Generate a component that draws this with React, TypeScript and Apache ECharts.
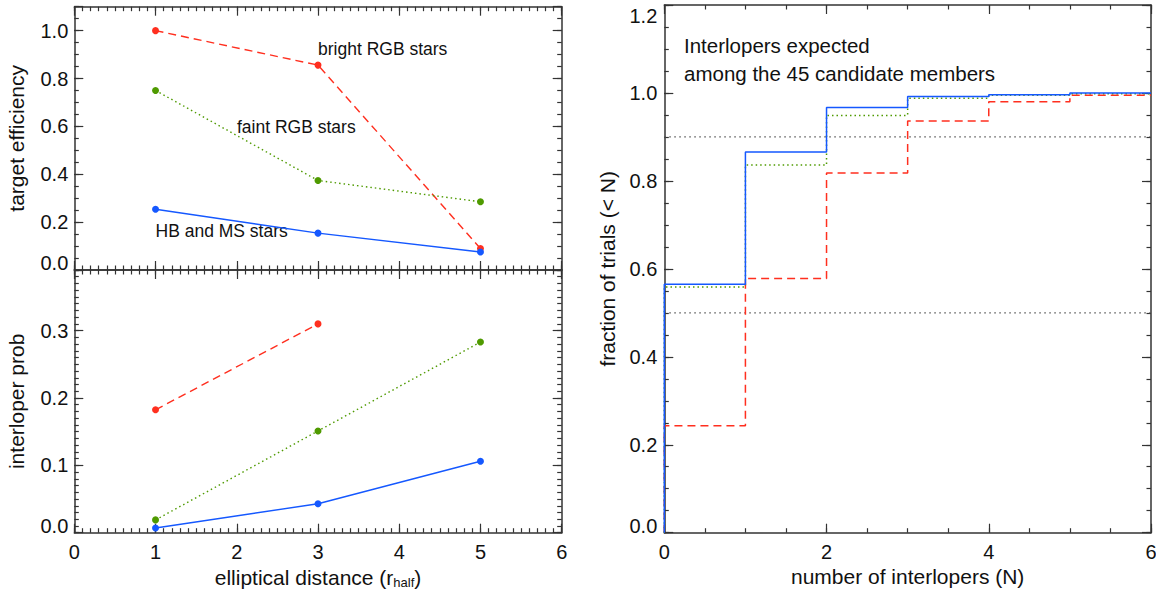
import React, { useEffect, useRef } from "react";
import * as echarts from "echarts";

// ---------- data ----------
const xDist = [1, 3, 5];
const xDistBright = [1, 3];
const effBright = [1.0, 0.856, 0.09];
const effFaint = [0.75, 0.374, 0.285];
const effHBMS = [0.254, 0.154, 0.075];
const probBright = [0.1825, 0.31];
const probFaint = [0.019, 0.151, 0.283];
const probHBMS = [0.007, 0.043, 0.106];

const nInterlopers = [0, 1, 2, 3, 4, 5, 6];
const cumHBMS = [0.565, 0.866, 0.967, 0.992, 0.996, 1.0];
const cumFaint = [0.559, 0.836, 0.949, 0.988, 0.995, 0.998];
const cumBright = [0.243, 0.578, 0.818, 0.936, 0.98, 0.995];
const refLevels = [0.9, 0.5];

const FONT = "'Liberation Sans', Arial, Helvetica, sans-serif";
const RED = "#ff2f1f";
const GREEN = "#4f9a00";
const BLUE = "#1558ff";
const AX = "#333333";

const tickStyle = { color: AX, width: 1.2 };
const axisLineStyle = { color: AX, width: 1.5 };

const labelRich = {
  lo: { padding: [0, 0, 14, 0], fontSize: 20, fontFamily: FONT, color: "#111" },
  hi: { padding: [22, 0, 0, 0], fontSize: 20, fontFamily: FONT, color: "#111" },
};

function fmt(step: number, special: Record<string, string>) {
  return (v: number) => {
    const k = v / step;
    if (Math.abs(k - Math.round(k)) > 1e-6) return "";
    const s = (Math.round(k) * step).toFixed(step >= 1 ? 0 : 1);
    return special[s] ?? s;
  };
}

function addAxes(list: any[], dim: "x" | "y", gridIndex: number, c: any) {
  const sides = dim === "x" ? ["bottom", "top"] : ["left", "right"];
  let primary = -1;
  sides.forEach((pos, si) => {
    const showLabel = si === 0 && c.showLabels;
    if (si === 0) primary = list.length;
    list.push({
      type: "value",
      gridIndex,
      position: pos,
      offset: 0,
      min: c.min,
      max: c.max,
      interval: c.major,
      silent: true,
      axisLine: { show: true, onZero: false, lineStyle: axisLineStyle },
      axisTick: { show: true, inside: true, length: 9, lineStyle: tickStyle },
      minorTick: { show: false },
      splitLine: { show: false },
      axisLabel: showLabel
        ? {
            show: true,
            formatter: c.formatter,
            margin: c.labelMargin,
            fontSize: 20,
            fontFamily: FONT,
            color: "#111",
            rich: labelRich,
            hideOverlap: false,
          }
        : { show: false },
      name: si === 0 && c.name ? c.name : "",
      nameLocation: "middle",
      nameGap: c.nameGap ?? 30,
      nameRotate: dim === "y" ? 90 : 0,
      nameMoveOverlap: false,
      nameTextStyle: {
        fontSize: 21,
        fontFamily: FONT,
        color: "#111",
        rich: {
          sub: { fontSize: 13, fontFamily: FONT, color: "#111", padding: [10, 0, 0, 0] },
        },
      },
    });
    list.push({
      type: "value",
      gridIndex,
      position: pos,
      offset: 0,
      min: c.min,
      max: c.max,
      interval: c.minor,
      silent: true,
      axisLine: { show: false, onZero: false },
      axisTick: { show: true, inside: true, length: 4.5, lineStyle: tickStyle },
      minorTick: { show: false },
      splitLine: { show: false },
      axisLabel: { show: false },
    });
  });
  return primary;
}

function buildOption() {
  const xAxis: any[] = [];
  const yAxis: any[] = [];

  // grid 0 : top-left (target efficiency)
  const x0 = addAxes(xAxis, "x", 0, { min: 0, max: 6, major: 1, minor: 0.1, showLabels: false });
  const y0 = addAxes(yAxis, "y", 0, {
    min: 0, max: 1.1, major: 0.2, minor: 0.05, showLabels: true, labelMargin: 6,
    formatter: fmt(0.2, { "0.0": "{lo|0.0}" }),
    name: "target efficiency", nameGap: 47,
  });
  // grid 1 : bottom-left (interloper prob)
  const x1 = addAxes(xAxis, "x", 1, {
    min: 0, max: 6, major: 1, minor: 0.1, showLabels: true, labelMargin: 9,
    formatter: fmt(1, {}),
    name: "elliptical distance (r{sub|half})", nameGap: 33,
  });
  const y1 = addAxes(yAxis, "y", 1, {
    min: 0, max: 0.39, major: 0.1, minor: 0.01, showLabels: true, labelMargin: 6,
    formatter: fmt(0.1, { "0.0": "{lo|0.0}" }),
    name: "interloper prob", nameGap: 47,
  });
  // grid 2 : right (cumulative)
  const x2 = addAxes(xAxis, "x", 2, {
    min: 0, max: 6, major: 2, minor: 0.5, showLabels: true, labelMargin: 9,
    formatter: fmt(2, {}),
    name: "number of interlopers (N)", nameGap: 33,
  });
  const y2 = addAxes(yAxis, "y", 2, {
    min: 0, max: 1.2, major: 0.2, minor: 0.05, showLabels: true, labelMargin: 7,
    formatter: fmt(0.2, { "0.0": "{lo|0.0}", "1.2": "{hi|1.2}" }),
    name: "fraction of trials (< N)", nameGap: 46,
  });

  const pts = (xs: number[], ys: number[]) => xs.map((x, i) => [x, ys[i]]);
  const lineSeries = (name: string, data: number[][], color: string, type: any, xi: number, yi: number, z: number) => ({
    type: "line",
    name,
    xAxisIndex: xi,
    yAxisIndex: yi,
    data,
    symbol: "circle",
    symbolSize: 7,
    showSymbol: true,
    itemStyle: { color },
    lineStyle: { color, width: 1.4, type },
    silent: true,
    z,
  });

  const stepData = (v: number[]) => {
    const out: number[][] = [[nInterlopers[0], 0]];
    v.forEach((y, i) => {
      out.push([nInterlopers[i], y]);
      out.push([nInterlopers[i + 1], y]);
    });
    return out;
  };
  const stepSeries = (name: string, v: number[], color: string, type: any, z: number) => ({
    type: "line",
    name,
    xAxisIndex: x2,
    yAxisIndex: y2,
    data: stepData(v),
    symbol: "none",
    lineStyle: { color, width: 1.5, type },
    silent: true,
    z,
  });

  const series: any[] = [
    lineSeries("bright RGB", pts(xDist, effBright), RED, [8, 5], x0, y0, 3),
    lineSeries("faint RGB", pts(xDist, effFaint), GREEN, [1.5, 3], x0, y0, 4),
    lineSeries("HB and MS", pts(xDist, effHBMS), BLUE, "solid", x0, y0, 5),
    lineSeries("bright RGB p", pts(xDistBright, probBright), RED, [8, 5], x1, y1, 3),
    lineSeries("faint RGB p", pts(xDist, probFaint), GREEN, [1.5, 3], x1, y1, 4),
    lineSeries("HB and MS p", pts(xDist, probHBMS), BLUE, "solid", x1, y1, 5),
    ...refLevels.map((lv, i) => ({
      type: "line",
      name: "ref" + i,
      xAxisIndex: x2,
      yAxisIndex: y2,
      data: [[nInterlopers[0], lv], [nInterlopers[nInterlopers.length - 1], lv]],
      symbol: "none",
      lineStyle: { color: "#555", width: 1.3, type: [1.5, 3.5] },
      silent: true,
      z: 2,
    })),
    stepSeries("bright cum", cumBright, RED, [8, 5], 3),
    stepSeries("faint cum", cumFaint, GREEN, [1.5, 3], 4),
    stepSeries("HBMS cum", cumHBMS, BLUE, "solid", 5),
  ];

  const txt = (text: string, x: number, y: number, size: number) => ({
    type: "text",
    x,
    y,
    silent: true,
    style: { text, fontSize: size, fontFamily: FONT, fill: "#111", align: "left", verticalAlign: "middle" },
  });

  return {
    animation: false,
    backgroundColor: "#fff",
    grid: [
      { left: 74.3, top: 6.7, width: 487.4, height: 263.3, containLabel: false, outerBoundsMode: "none" },
      { left: 74.3, top: 270, width: 487.4, height: 262.7, containLabel: false, outerBoundsMode: "none" },
      { left: 664.3, top: 5, width: 486.7, height: 527.7, containLabel: false, outerBoundsMode: "none" },
    ],
    xAxis,
    yAxis,
    series,
    graphic: [
      txt("bright RGB stars", 318, 49, 17.5),
      txt("faint RGB stars", 237, 127, 17.5),
      txt("HB and MS stars", 155.5, 231, 17.5),
      txt("Interlopers expected", 684, 45, 20.5),
      txt("among the 45 candidate members", 684, 73, 20.5),
    ],
  };
}

export default function App() {
  const ref = useRef<HTMLDivElement>(null);
  useEffect(() => {
    const chart = echarts.init(ref.current!, null, { renderer: "svg" });
    chart.setOption(buildOption() as any);
    return () => chart.dispose();
  }, []);
  return (
    <div
      ref={ref}
      style={{ position: "absolute", left: 0, top: 0, width: 1156, height: 589, background: "#fff" }}
    />
  );
}
